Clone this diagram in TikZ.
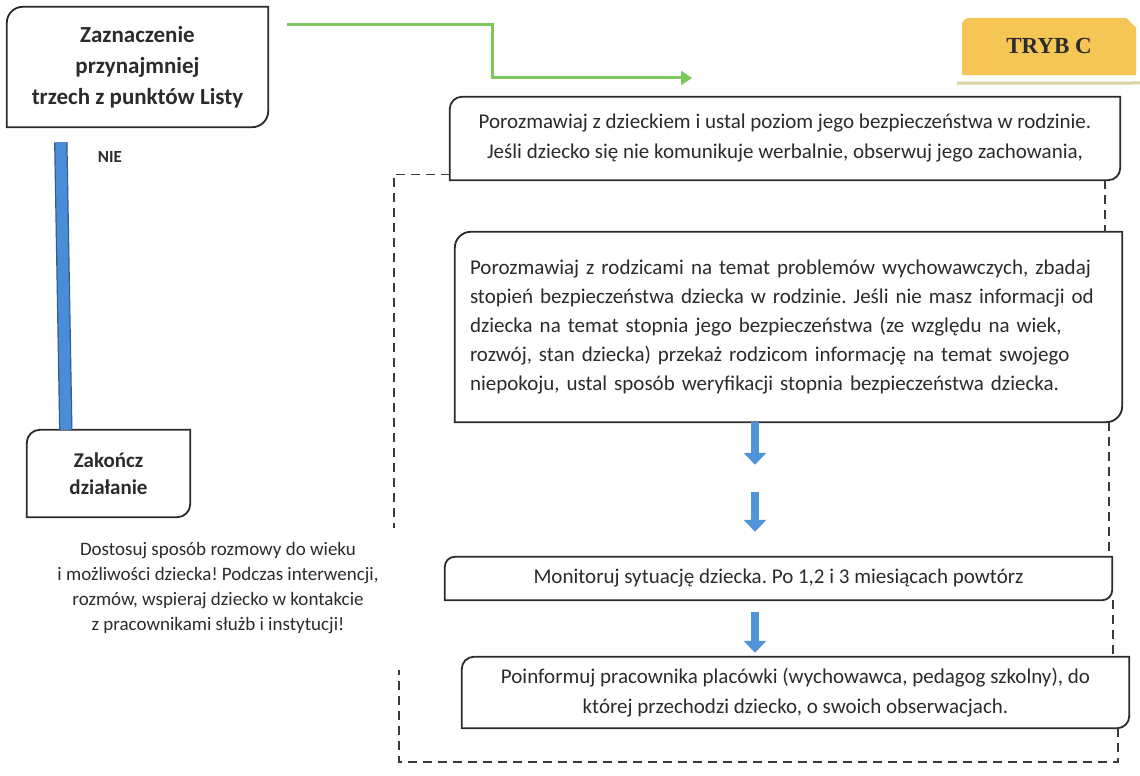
\documentclass[tikz,border=0pt]{standalone}
\usepackage{fontspec}
\setmainfont{Carlito}
\newfontfamily\trybfont{Liberation Serif}
\usetikzlibrary{arrows.meta,backgrounds}
\frenchspacing
\definecolor{tcink}{HTML}{2B2B2B}
\definecolor{tcgreen}{HTML}{7DC85A}
\definecolor{tcblue}{HTML}{4A8DD6}
\definecolor{tcblueedge}{HTML}{2E5C92}
\definecolor{tcarrow}{HTML}{4F94D8}
\definecolor{tcgold}{HTML}{F5C655}
\definecolor{tcshade}{HTML}{D9D4A0}
\definecolor{tcdash}{HTML}{3A3A3A}
\newcommand{\diagframe}[2]{%
  \draw[line width=1.8pt, tcink] (#1.south west) -- ([yshift=-#2]#1.north west)
    arc[start angle=180, end angle=90, radius=#2] -- (#1.north east)
    -- ([yshift=#2]#1.south east) arc[start angle=0, end angle=-90, radius=#2] -- cycle;}

\begin{document}
\begin{tikzpicture}[x=1pt, y=1pt,
  box/.style={fill=white, inner sep=0pt, text=tcink},
  dashline/.style={tcdash, line width=1.3pt, dash pattern=on 9pt off 6pt},
  greenline/.style={tcgreen, line width=3pt, -{Triangle[width=14pt,length=11pt]}},
  nieline/.style={draw=tcblueedge, line width=1.2pt, double=tcblue, double distance=11pt},
  downarrow/.style={tcarrow, line width=8pt, -{Triangle[width=22pt,length=12pt]}}]
  \useasboundingbox (0,0) rectangle (1140,776);
  \node[box, minimum width=261pt, minimum height=120pt, align=center, font=\fontsize{23}{31}\selectfont\bfseries] (a) at (137.5,709) {Zaznaczenie\\przynajmniej\\trzech z punktów Listy};
  \node[box, minimum width=163pt, minimum height=87pt, align=center, font=\fontsize{21}{27}\selectfont\bfseries] (z) at (108.5,302.5) {Zakończ\\działanie};
  \node[inner sep=0pt, text=tcink, font=\fontsize{17}{20}\selectfont\bfseries] (nie) at (110,619) {NIE};
  \node[inner sep=0pt, text=tcink, align=center, font=\fontsize{19}{25}\selectfont] (note) at (218,187.5) {Dostosuj sposób rozmowy do wieku\\i możliwości dziecka! Podczas interwencji,\\rozmów, wspieraj dziecko w kontakcie\\z pracownikami służb i instytucji!};
  \node[inner sep=0pt, minimum width=174pt, minimum height=57pt, text=tcink, font=\fontsize{23}{26}\selectfont\trybfont\bfseries] (t) at (1049,729.5) {TRYB C};
  \node[box, minimum width=670pt, minimum height=83pt, align=center, font=\fontsize{21}{30}\selectfont] (b1) at (785,637.5) {Porozmawiaj z dzieckiem i ustal poziom jego bezpieczeństwa w rodzinie.\\Jeśli dziecko się nie komunikuje werbalnie, obserwuj jego zachowania,};
  \node[box, minimum width=667pt, minimum height=190pt, text width=637pt, align=left, font=\fontsize{21}{29}\selectfont] (b2) at (788.5,449) {Porozmawiaj z rodzicami na temat problemów wychowawczych, zbadaj\\stopień bezpieczeństwa dziecka w rodzinie. Jeśli nie masz informacji od\\dziecka na temat stopnia jego bezpieczeństwa (ze względu na wiek,\\rozwój, stan dziecka) przekaż rodzicom informację na temat swojego\\niepokoju, ustal sposób weryfikacji stopnia bezpieczeństwa dziecka.};
  \node[box, minimum width=667pt, minimum height=43pt, font=\fontsize{21}{29}\selectfont] (m) at (778.5,197.5) {Monitoruj sytuację dziecka. Po 1,2 i 3 miesiącach powtórz};
  \node[box, minimum width=667pt, minimum height=71pt, align=center, font=\fontsize{21}{30}\selectfont] (p) at (795.5,83.5) {Poinformuj pracownika placówki (wychowawca, pedagog szkolny), do\\której przechodzi dziecko, o swoich obserwacjach.};
  \diagframe{a}{16pt}
  \diagframe{z}{13pt}
  \diagframe{b1}{12pt}
  \diagframe{b2}{16pt}
  \diagframe{m}{10pt}
  \diagframe{p}{12pt}
  \begin{scope}[on background layer]
    \fill[tcgold] (t.south west) -- ([yshift=-8pt]t.north west) arc[start angle=180, end angle=90, radius=8pt] -- ([xshift=-10pt]t.north east) -- ([yshift=-10pt]t.north east) -- (t.south east) -- cycle;
  \end{scope}
  \coordinate (sh) at (1140,693);
  \draw[tcshade, line width=3pt] ([xshift=-5pt,yshift=-8pt]t.south west) -- (sh);
  \coordinate (g2) at (492,698);
  \coordinate (g3) at (692,698);
  \draw[greenline] ([xshift=19pt,yshift=-18pt]a.north east) -| (g2) -- (g3);
  \draw[nieline] ([xshift=54pt,yshift=-15pt]a.south west) -- ([xshift=39pt]z.north west);
  \coordinate (ax) at (755,0);
  \draw[downarrow, shorten >=92pt] (b2.south -| ax) -- (m.north -| ax);
  \draw[downarrow, shorten <=70pt, shorten >=25pt] (b2.south -| ax) -- (m.north -| ax);
  \draw[downarrow, shorten <=12pt, shorten >=4pt] (m.south -| ax) -- (p.north -| ax);
  \coordinate (l1) at (394,248);
  \coordinate (l2) at (399,106);
  \coordinate (r1) at (1105,0);
  \coordinate (r2) at (1109,0);
  \coordinate (r3) at (1113,0);
  \coordinate (r4) at (1118,0);
  \coordinate (bot) at (0,14);
  \draw[dashline] ([yshift=6pt]b1.south west) -| (l1);
  \draw[dashline] (b1.south -| r1) -- (b2.north -| r1);
  \draw[dashline] (b2.south -| r2) -- (m.north -| r2);
  \draw[dashline] (m.south -| r3) -- (p.north -| r3);
  \draw[dashline] (p.south -| r4) -- (r4 |- bot) -| (l2);
\end{tikzpicture}
\end{document}
